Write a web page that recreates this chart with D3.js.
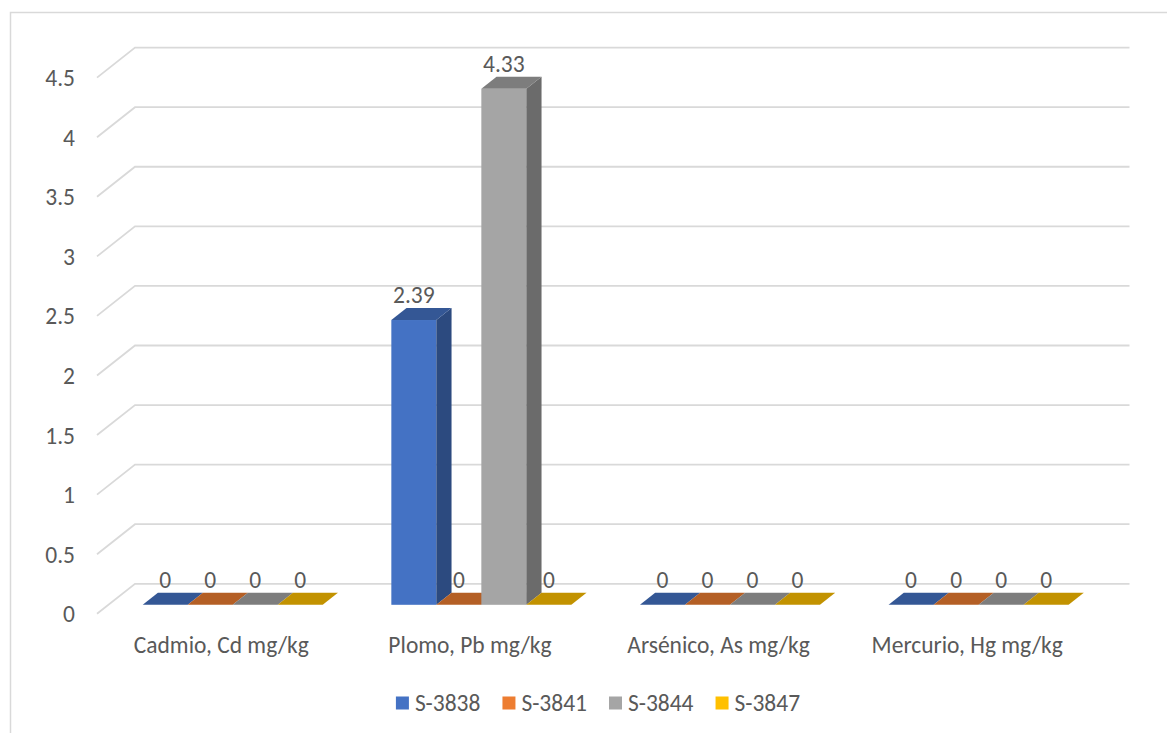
<!DOCTYPE html>
<html>
<head>
<meta charset="utf-8">
<script src="https://cdn.jsdelivr.net/npm/d3@7"></script>
<style>
  html, body { margin: 0; padding: 0; background: #ffffff; }
  svg { display: block; }
  text { font-family: Carlito, Calibri, Lato, "Open Sans", sans-serif; fill: #595959; }
</style>
</head>
<body>
<svg id="chart" width="1167" height="733"></svg>
<script>
// Categories and series
const categories = ["Cadmio, Cd mg/kg", "Plomo, Pb mg/kg", "Arsénico, As mg/kg", "Mercurio, Hg mg/kg"];
const seriesNames = ["S-3838", "S-3841", "S-3844", "S-3847"];
const seriesColors = ["#4472C4", "#ED7D31", "#A5A5A5", "#FFC000"];
// values per series, one entry per category
const valuesS3838 = [0, 2.39, 0, 0];
const valuesS3841 = [0, 0, 0, 0];
const valuesS3844 = [0, 4.33, 0, 0];
const valuesS3847 = [0, 0, 0, 0];
const seriesValues = [valuesS3838, valuesS3841, valuesS3844, valuesS3847];
const yTicks = [0, 0.5, 1, 1.5, 2, 2.5, 3, 3.5, 4, 4.5];

const svg = d3.select("#chart");
const fontSize = 23.5;

// 3D projection: front plane plus an oblique depth offset
const frontLeft = 97, frontRight = 1091.5;
const depthX = 38, depthY = -30;
const barDepthStart = 0.3, barDepthEnd = 0.7;

const y = d3.scaleLinear().domain([0, 4.5]).range([613.8, 77.6]);
const x0 = d3.scaleBand().domain(categories).range([frontLeft, frontRight])
  .paddingInner(0.276).paddingOuter(0.138);
const x1 = d3.scaleBand().domain(seriesNames).range([0, x0.bandwidth()]).padding(0);

function shade(hex, k) {
  const c = d3.rgb(hex);
  return d3.rgb(c.r * k, c.g * k, c.b * k).formatHex();
}

// Chart frame (left and top edges)
svg.append("path")
  .attr("d", "M10.5,733 L10.5,12.5 L1167,12.5")
  .attr("fill", "none").attr("stroke", "#D9D9D9").attr("stroke-width", 1.5);

// Gridlines: diagonal on the side wall and horizontal on the back wall
const grid = svg.append("g").attr("fill", "none").attr("stroke", "#D9D9D9").attr("stroke-width", 1.8);
yTicks.forEach(t => {
  const yf = y(t);
  grid.append("path")
    .attr("d", `M${frontLeft},${yf} L${frontLeft + depthX},${yf + depthY} L${frontRight + depthX},${yf + depthY}`);
});

// Y axis tick labels
svg.append("g").selectAll("text").data(yTicks).join("text")
  .attr("x", 75).attr("y", d => y(d))
  .attr("dy", "0.36em")
  .attr("text-anchor", "end")
  .attr("font-size", fontSize)
  .text(d => d3.format("")(d));

// Bars
const ox = barDepthStart * depthX, oy = barDepthStart * depthY;
const bdx = (barDepthEnd - barDepthStart) * depthX, bdy = (barDepthEnd - barDepthStart) * depthY;
const barsG = svg.append("g");
const labelsG = svg.append("g");

categories.forEach((cat, ci) => {
  seriesNames.forEach((s, si) => {
    const v = seriesValues[si][ci];
    const color = seriesColors[si];
    const xl = x0(cat) + x1(s) + ox;
    const xr = xl + x1.bandwidth();
    const yb = y(0) + oy;
    const yt = y(v) + oy;
    const g = barsG.append("g");
    if (yb - yt > 0.5) {
      g.append("rect").attr("x", xl).attr("y", yt).attr("width", xr - xl).attr("height", yb - yt)
        .attr("fill", color);
      g.append("path")
        .attr("d", `M${xr},${yb} L${xr + bdx},${yb + bdy} L${xr + bdx},${yt + bdy} L${xr},${yt} Z`)
        .attr("fill", shade(color, 0.65));
    }
    g.append("path")
      .attr("d", `M${xl},${yt} L${xr},${yt} L${xr + bdx},${yt + bdy} L${xl + bdx},${yt + bdy} Z`)
      .attr("fill", shade(color, 0.76));
    labelsG.append("text")
      .attr("x", (xl + xr) / 2).attr("y", yt - 25)
      .attr("dy", "0.36em")
      .attr("text-anchor", "middle")
      .attr("font-size", fontSize)
      .attr("fill", "#404040")
      .text(v);
  });
});

// Category labels
svg.append("g").selectAll("text").data(categories).join("text")
  .attr("x", d => x0(d) + x0.bandwidth() / 2)
  .attr("y", 645).attr("dy", "0.36em")
  .attr("text-anchor", "middle")
  .attr("font-size", fontSize)
  .text(d => d);

// Legend
const legend = svg.append("g");
const items = seriesNames.map((s, i) => {
  const g = legend.append("g");
  g.append("rect").attr("x", 0).attr("y", -6.5).attr("width", 13).attr("height", 13).attr("fill", seriesColors[i]);
  const t = g.append("text").attr("x", 19).attr("y", 0).attr("dy", "0.36em")
    .attr("font-size", fontSize).text(s);
  return { g, w: 19 + t.node().getComputedTextLength() };
});
const gap = 22;
const total = d3.sum(items, d => d.w) + gap * (items.length - 1);
let lx = 598 - total / 2;
items.forEach(it => {
  it.g.attr("transform", `translate(${lx},703)`);
  lx += it.w + gap;
});
</script>
</body>
</html>
